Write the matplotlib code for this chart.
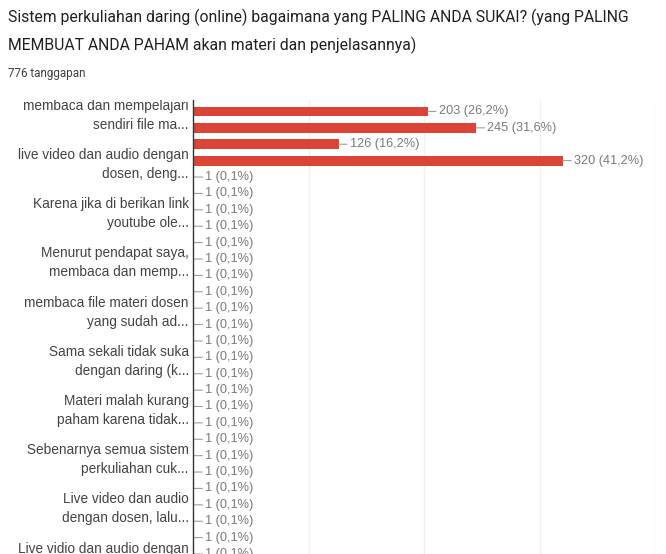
import matplotlib
matplotlib.use("Agg")
from matplotlib import pyplot as plt
from matplotlib.patches import Rectangle

title_lines = ["Sistem perkuliahan daring (online) bagaimana yang PALING ANDA SUKAI? (yang PALING",
               "MEMBUAT ANDA PAHAM akan materi dan penjelasannya)"]
subtitle = "776 tanggapan"
total = 776

# jumlah jawaban per pilihan (urutan dari atas)
values = [203, 245, 126, 320] + [1] * 25

# hanya label tiap 3 baris yang ditampilkan
label_rows = [0, 3, 6, 9, 12, 15, 18, 21, 24, 27]
labels = ["membaca dan mempelajari\nsendiri file ma...",
          "live video dan audio dengan\ndosen, deng...",
          "Karena jika di berikan link\nyoutube ole...",
          "Menurut pendapat saya,\nmembaca dan memp...",
          "membaca file materi dosen\nyang sudah ad...",
          "Sama sekali tidak suka\ndengan daring (k...",
          "Materi malah kurang\npaham karena tidak...",
          "Sebenarnya semua sistem\nperkuliahan cuk...",
          "Live video dan audio\ndengan dosen, lalu...",
          "Live vidio dan audio dengan\ndengan dosen..."]

W, H = 666, 554
clip_top = 100
fig = plt.figure(figsize=(W / 100, H / 100), dpi=100)
fig.patch.set_facecolor("white")

# area grafik: atas terpotong di y=100px, bawah terpotong di tepi gambar
ax = fig.add_axes([193 / W, 0, (655.5 - 193) / W, 1 - clip_top / H])
ax.set_zorder(0)

rows = list(range(len(values)))
ax.barh(rows, values, height=0.6, color="#db4437", zorder=2)

for i, v in enumerate(values):
    pct = f"{v / total * 100:.1f}".replace(".", ",")
    ax.annotate(f"{v} ({pct}%)", xy=(v, i), xytext=(8, 0), textcoords="offset points",
                ha="left", va="center", fontsize=9.2, color="#7a7a7a",
                family="Liberation Sans",
                arrowprops=dict(arrowstyle="-", color="#a0a0a0", lw=0.8,
                                shrinkA=0, shrinkB=0))

row0 = 111.5
row_px = 16.45
top = -(row0 - clip_top) / row_px
bottom = (554 - row0) / row_px
ax.set_ylim(bottom, top)
ax.set_xlim(0, 400)

ax.set_yticks(label_rows)
ax.set_yticklabels(labels, fontsize=9.8, color="#444444", family="Liberation Sans",
                   linespacing=1.45)
ax.tick_params(axis="y", length=0, pad=3)
ax.set_xticks([100, 200, 300, 400])
ax.tick_params(axis="x", length=0, labelbottom=False)
ax.grid(axis="x", color="#f0f0f0", lw=1, zorder=0)
ax.set_axisbelow(True)
for s in ["top", "right", "bottom"]:
    ax.spines[s].set_visible(False)
ax.spines["left"].set_color("#333333")
ax.spines["left"].set_linewidth(1)
ax.spines["left"].set_zorder(3)

# tutup bagian atas (potongan layar), lalu tulis judul
fig.patches.append(Rectangle((0, 1 - clip_top / H), 1, clip_top / H, transform=fig.transFigure,
                             facecolor="white", edgecolor="none", zorder=1))
fig.text(8 / W, 1 - 17 / H, title_lines[0], fontsize=11.3, color="#202124",
         family="Roboto", va="center", ha="left", zorder=3)
fig.text(8 / W, 1 - 45 / H, title_lines[1], fontsize=11.3, color="#202124",
         family="Roboto", va="center", ha="left", zorder=3)
fig.text(8 / W, 1 - 73 / H, subtitle, fontsize=8.4, color="#3c4043",
         family="Roboto", va="center", ha="left", zorder=3)

fig.savefig("out.png", dpi=100)
